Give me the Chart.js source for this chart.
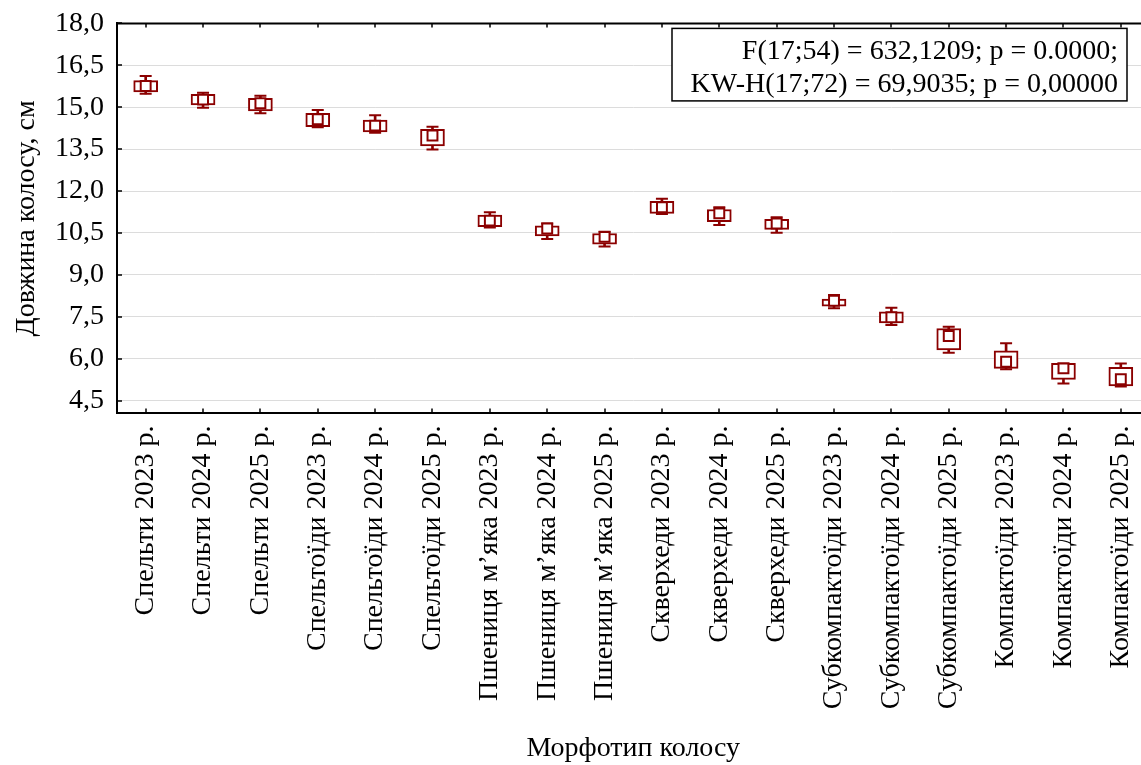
<!DOCTYPE html>
<html>
<head>
<meta charset="utf-8">
<script src="https://cdn.jsdelivr.net/npm/chart.js@4.4.1/dist/chart.umd.min.js"></script>
<style>
  html, body { margin: 0; padding: 0; background: #fff; overflow: hidden; }
  canvas { display: block; }
</style>
</head>
<body>
<canvas id="chart" width="1160" height="765"></canvas>
<script>
// Morphotype categories
const categories = [
  "Спельти 2023 р.", "Спельти 2024 р.", "Спельти 2025 р.",
  "Спельтоїди 2023 р.", "Спельтоїди 2024 р.", "Спельтоїди 2025 р.",
  "Пшениця м’яка 2023 р.", "Пшениця м’яка 2024 р.", "Пшениця м’яка 2025 р.",
  "Скверхеди 2023 р.", "Скверхеди 2024 р.", "Скверхеди 2025 р.",
  "Субкомпактоїди 2023 р.", "Субкомпактоїди 2024 р.", "Субкомпактоїди 2025 р.",
  "Компактоїди 2023 р.", "Компактоїди 2024 р.", "Компактоїди 2025 р.",
];

// Box plot values (cm)
const maxs    = [16.12, 15.52, 15.41, 14.90, 14.71, 14.30, 11.24, 10.84, 10.54, 11.72, 11.42, 11.06, 8.28, 7.82, 7.14, 6.55, 5.83, 5.83];
const q3s     = [15.95, 15.46, 15.32, 14.78, 14.54, 14.21, 11.14, 10.75, 10.48, 11.63, 11.34, 10.99, 8.13, 7.68, 7.08, 6.28, 5.83, 5.69];
const medians = [15.76, 15.27, 15.14, 14.57, 14.34, 13.99, 10.94, 10.66, 10.36, 11.42, 11.20, 10.84, 8.07, 7.48, 6.81, 5.89, 5.65, 5.26];
const q1s     = [15.55, 15.08, 14.87, 14.30, 14.12, 13.61, 10.72, 10.39, 10.10, 11.20, 10.90, 10.63, 7.88, 7.28, 6.31, 5.65, 5.26, 5.02];
const mins    = [15.48, 14.98, 14.78, 14.28, 14.09, 13.49, 10.69, 10.28, 10.01, 11.18, 10.78, 10.51, 7.80, 7.20, 6.21, 5.62, 5.11, 5.00];

const yTicks = [4.5, 6.0, 7.5, 9.0, 10.5, 12.0, 13.5, 15.0, 16.5, 18.0];

const statsLines = [
  "F(17;54) = 632,1209; p = 0.0000;",
  "KW-H(17;72) = 69,9035; p = 0,00000",
];

const markColor = "#8b0000";
const fontFamily = "'Liberation Serif', 'Times New Roman', serif";

// top border, inward ticks and the stats box
const framePlugin = {
  id: "frame",
  afterDraw(chart) {
    const { ctx, chartArea: a, scales } = chart;
    ctx.save();
    ctx.strokeStyle = "#000";
    ctx.lineWidth = 2;
    ctx.beginPath();
    ctx.moveTo(a.left - 1, a.top);
    ctx.lineTo(a.right, a.top);
    ctx.stroke();

    ctx.lineWidth = 1.5;
    ctx.beginPath();
    scales.x.ticks.forEach((t, i) => {
      const x = Math.round(scales.x.getPixelForTick(i));
      ctx.moveTo(x, a.bottom);
      ctx.lineTo(x, a.bottom - 5);
      ctx.moveTo(x, a.top);
      ctx.lineTo(x, a.top + 4);
    });
    scales.y.ticks.forEach((t) => {
      const y = Math.round(scales.y.getPixelForValue(t.value));
      ctx.moveTo(a.left, y);
      ctx.lineTo(a.left + 5, y);
    });
    ctx.stroke();

    // stats box
    const boxRight = a.right - 22.5;
    const boxLeft = boxRight - 455;
    const boxTop = a.top + 5;
    const boxH = 72.5;
    ctx.fillStyle = "#fff";
    ctx.fillRect(boxLeft, boxTop, boxRight - boxLeft, boxH);
    ctx.lineWidth = 1.5;
    ctx.strokeRect(boxLeft, boxTop, boxRight - boxLeft, boxH);
    ctx.fillStyle = "#000";
    ctx.font = "28px " + fontFamily;
    ctx.textAlign = "right";
    ctx.textBaseline = "middle";
    statsLines.forEach((line, i) => {
      ctx.fillText(line, boxRight - 9, boxTop + 23 + i * 33.5);
    });
    ctx.restore();
  },
};

const ctx = document.getElementById("chart").getContext("2d");
const chart = new Chart(ctx, {
  type: "bar",
  data: {
    labels: categories,
    datasets: [
      {
        // median marker
        type: "line",
        data: medians,
        showLine: false,
        pointStyle: "rect",
        pointRadius: 7,
        pointHoverRadius: 7,
        pointBorderWidth: 2,
        pointBackgroundColor: "#fff",
        pointBorderColor: markColor,
        order: 0,
      },
      {
        // box 25%-75%
        data: q1s.map((v, i) => [v, q3s[i]]),
        backgroundColor: "#fff",
        borderColor: markColor,
        borderWidth: 2,
        borderSkipped: false,
        barThickness: 24,
        grouped: false,
        order: 1,
      },
      {
        // whisker caps
        type: "line",
        data: maxs,
        showLine: false,
        pointStyle: "line",
        pointRadius: 6,
        pointHoverRadius: 6,
        pointBorderWidth: 2,
        pointBorderColor: markColor,
        order: 2,
      },
      {
        type: "line",
        data: mins,
        showLine: false,
        pointStyle: "line",
        pointRadius: 6,
        pointHoverRadius: 6,
        pointBorderWidth: 2,
        pointBorderColor: markColor,
        order: 2,
      },
      {
        // whisker line min-max
        data: mins.map((v, i) => [v, maxs[i]]),
        backgroundColor: markColor,
        borderWidth: 0,
        barThickness: 2,
        grouped: false,
        order: 3,
      },
    ],
  },
  options: {
    responsive: false,
    animation: false,
    events: [],
    layout: {
      autoPadding: false,
      padding: { top: 23.4, right: 10.5, left: 0, bottom: 0 },
    },
    plugins: {
      legend: { display: false },
      tooltip: { enabled: false },
    },
    scales: {
      x: {
        offset: true,
        grid: { display: false, drawTicks: false },
        border: { display: true, color: "#000", width: 2 },
        ticks: {
          autoSkip: false,
          maxRotation: 90,
          minRotation: 90,
          padding: 12,
          color: "#000",
          font: { family: fontFamily, size: 28 },
        },
        title: {
          display: true,
          text: "Морфотип колосу",
          color: "#000",
          font: { family: fontFamily, size: 28 },
          padding: { top: 0, bottom: 0 },
        },
        afterFit(scale) {
          scale.height = 765 - 23.4 - 390;
          scale.paddingLeft = 0;
          scale.paddingRight = 0;
        },
      },
      y: {
        min: 4.04,
        max: 18.0,
        grid: { color: "#dcdcdc", lineWidth: 1, drawTicks: false },
        border: { display: true, color: "#000", width: 2 },
        afterBuildTicks(scale) {
          scale.ticks = yTicks.map((v) => ({ value: v }));
        },
        ticks: {
          padding: 13,
          color: "#000",
          font: { family: fontFamily, size: 28 },
          callback: (v) => Number(v).toFixed(1).replace(".", ","),
        },
        title: {
          display: true,
          text: "Довжина колосу, см",
          color: "#000",
          font: { family: fontFamily, size: 28 },
          padding: { top: 10, bottom: 0 },
        },
        afterFit(scale) {
          scale.width = 117;
          scale.paddingTop = 0;
          scale.paddingBottom = 0;
        },
      },
    },
  },
  plugins: [framePlugin],
});
</script>
</body>
</html>
